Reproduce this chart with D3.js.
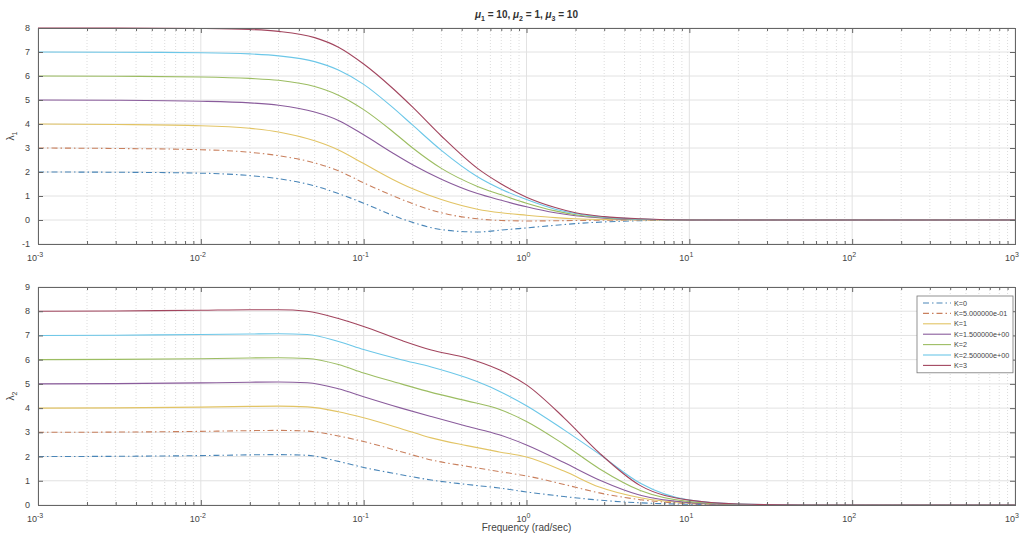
<!DOCTYPE html>
<html>
<head>
<meta charset="utf-8">
<script src="https://cdn.jsdelivr.net/npm/d3@7"></script>
<style>
  body { margin: 0; background: #fff; }
  text { font-family: "Liberation Sans", Arial, sans-serif; fill: #444; }
</style>
</head>
<body>
<div id="chart"></div>
<script>
var svgWidth = 1030;
var svgHeight = 536;

// Data
var kLabels = ["K=0", "K=5.000000e-01", "K=1", "K=1.500000e+00", "K=2", "K=2.500000e+00", "K=3"];
var kColors = ["#4a86b8", "#c9805e", "#e2c465", "#8a5c9c", "#9cbd62", "#6cc7e8", "#a2455e"];
var kDashed = [true, true, false, false, false, false, false];

// lambda1 (top panel)
var freq1 = [0.001, 0.003, 0.01, 0.02, 0.03, 0.05, 0.07, 0.1, 0.15, 0.2, 0.3, 0.5, 0.7, 1, 1.5, 2, 3, 5, 10, 1000];
var lambda1K0  = [2, 1.99, 1.95, 1.85, 1.72, 1.42, 1.1, 0.7, 0.2, -0.1, -0.4, -0.5, -0.42, -0.33, -0.22, -0.15, -0.08, -0.03, 0, 0];
var lambda1K05 = [3, 2.98, 2.93, 2.82, 2.68, 2.38, 2.05, 1.55, 1.02, 0.68, 0.3, 0.05, -0.02, -0.04, -0.03, -0.02, -0.01, 0, 0, 0];
var lambda1K1  = [4, 3.98, 3.93, 3.82, 3.67, 3.3, 2.92, 2.35, 1.7, 1.3, 0.85, 0.45, 0.3, 0.2, 0.1, 0.05, 0.02, 0.01, 0, 0];
var lambda1K15 = [5, 4.99, 4.95, 4.88, 4.78, 4.5, 4.15, 3.55, 2.8, 2.3, 1.7, 1.1, 0.82, 0.55, 0.3, 0.18, 0.08, 0.02, 0, 0];
var lambda1K2  = [6, 5.99, 5.96, 5.9, 5.82, 5.56, 5.2, 4.6, 3.7, 3.0, 2.15, 1.4, 1.05, 0.7, 0.38, 0.22, 0.1, 0.03, 0, 0];
var lambda1K25 = [7, 6.99, 6.97, 6.92, 6.84, 6.6, 6.25, 5.65, 4.7, 3.95, 2.9, 1.8, 1.28, 0.85, 0.45, 0.27, 0.12, 0.04, 0, 0];
var lambda1K3  = [8, 8, 7.98, 7.94, 7.86, 7.6, 7.2, 6.5, 5.5, 4.7, 3.5, 2.15, 1.5, 0.95, 0.52, 0.3, 0.14, 0.05, 0, 0];

// lambda2 (bottom panel)
var freq2 = [0.001, 0.003, 0.01, 0.02, 0.03, 0.045, 0.07, 0.1, 0.17, 0.26, 0.43, 0.68, 1, 1.7, 2.8, 5, 10, 20, 50, 1000];
var lambda2K0  = [2.0, 2.01, 2.04, 2.07, 2.08, 2.05, 1.8, 1.55, 1.25, 1.03, 0.85, 0.7, 0.54, 0.35, 0.2, 0.09, 0.03, 0.01, 0, 0];
var lambda2K05 = [3.0, 3.01, 3.04, 3.07, 3.08, 3.05, 2.85, 2.62, 2.2, 1.86, 1.6, 1.38, 1.2, 0.85, 0.5, 0.22, 0.06, 0.02, 0, 0];
var lambda2K1  = [4.0, 4.01, 4.04, 4.07, 4.08, 4.05, 3.85, 3.6, 3.15, 2.77, 2.45, 2.19, 1.98, 1.4, 0.74, 0.3, 0.08, 0.02, 0, 0];
var lambda2K15 = [5.0, 5.01, 5.04, 5.07, 5.08, 5.05, 4.8, 4.47, 4.0, 3.65, 3.25, 2.9, 2.48, 1.75, 1.03, 0.4, 0.1, 0.02, 0, 0];
var lambda2K2  = [6.0, 6.01, 6.04, 6.07, 6.08, 6.05, 5.8, 5.45, 5.0, 4.65, 4.3, 3.95, 3.45, 2.5, 1.5, 0.6, 0.14, 0.03, 0, 0];
var lambda2K25 = [7.0, 7.01, 7.04, 7.06, 7.07, 7.04, 6.75, 6.42, 6.0, 5.7, 5.25, 4.7, 4.1, 3.1, 2.1, 0.9, 0.2, 0.04, 0, 0];
var lambda2K3  = [8.0, 8.01, 8.04, 8.06, 8.06, 8.0, 7.7, 7.37, 6.8, 6.4, 6.07, 5.58, 4.96, 3.6, 2.15, 0.8, 0.2, 0.04, 0, 0];

var xDecades = [-3, -2, -1, 0, 1, 2, 3];
var yTicks1 = [-1, 0, 1, 2, 3, 4, 5, 6, 7, 8];
var yTicks2 = [0, 1, 2, 3, 4, 5, 6, 7, 8, 9];

var svg = d3.select("#chart")
  .append("svg")
  .attr("width", svgWidth)
  .attr("height", svgHeight);

var plotLeft = 38, plotRight = 1015;

var xScale = d3.scaleLog()
  .domain([1e-3, 1e3])
  .range([plotLeft, plotRight]);

// minor ticks for the log axis
var minorTicks = [];
xDecades.slice(0, -1).forEach(function(e) {
  for (var m = 2; m <= 9; m++) minorTicks.push(m * Math.pow(10, e));
});
var majorTicks = xDecades.map(function(e) { return Math.pow(10, e); });

function drawPanel(top, bottom, yDomain, yTicks, freqs, series, yLabel) {
  var yScale = d3.scaleLinear().domain(yDomain).range([bottom, top]);
  var g = svg.append("g");

  // grid
  g.selectAll(".vminor").data(minorTicks).enter().append("line")
    .attr("x1", d => xScale(d)).attr("x2", d => xScale(d))
    .attr("y1", top).attr("y2", bottom)
    .attr("stroke", "#dcdcdc").attr("stroke-dasharray", "1,2").attr("stroke-width", 1);
  g.selectAll(".vmajor").data(majorTicks).enter().append("line")
    .attr("x1", d => xScale(d)).attr("x2", d => xScale(d))
    .attr("y1", top).attr("y2", bottom)
    .attr("stroke", "#e2e2e2").attr("stroke-width", 1);
  g.selectAll(".hmajor").data(yTicks).enter().append("line")
    .attr("x1", plotLeft).attr("x2", plotRight)
    .attr("y1", d => yScale(d)).attr("y2", d => yScale(d))
    .attr("stroke", "#e2e2e2").attr("stroke-width", 1);

  // curves
  var line = d3.line()
    .x((d, i) => xScale(freqs[i]))
    .y(d => yScale(d))
    .curve(d3.curveMonotoneX);
  series.forEach(function(vals, k) {
    g.append("path")
      .datum(vals)
      .attr("d", line)
      .attr("fill", "none")
      .attr("stroke", kColors[k])
      .attr("stroke-width", 1.1)
      .attr("stroke-dasharray", kDashed[k] ? "6,3,1.5,3" : null);
  });

  // axes with inward ticks, box on
  var axisColor = "#666";
  var bottomAxis = d3.axisBottom(xScale).tickValues(majorTicks).tickSize(-5).tickFormat("");
  var topAxis = d3.axisTop(xScale).tickValues(majorTicks).tickSize(-5).tickFormat("");
  var bottomMinor = d3.axisBottom(xScale).tickValues(minorTicks).tickSize(-3).tickFormat("");
  var topMinor = d3.axisTop(xScale).tickValues(minorTicks).tickSize(-3).tickFormat("");
  var leftAxis = d3.axisLeft(yScale).tickValues(yTicks).tickSize(-5).tickFormat("");
  var rightAxis = d3.axisRight(yScale).tickValues(yTicks).tickSize(-5).tickFormat("");

  [[bottomAxis, 0, bottom], [bottomMinor, 0, bottom], [topAxis, 0, top], [topMinor, 0, top],
   [leftAxis, plotLeft, 0], [rightAxis, plotRight, 0]].forEach(function(a) {
    var ag = g.append("g")
      .attr("transform", "translate(" + a[1] + "," + a[2] + ")")
      .call(a[0]);
    ag.selectAll("path, line").attr("stroke", axisColor);
  });

  // y tick labels
  g.selectAll(".ylab").data(yTicks).enter().append("text")
    .attr("x", plotLeft - 8).attr("y", d => yScale(d) + 3)
    .attr("text-anchor", "end")
    .attr("font-size", 9)
    .text(d => d);

  // x tick labels (10^n)
  var xl = g.selectAll(".xlab").data(xDecades).enter().append("text")
    .attr("x", d => xScale(Math.pow(10, d)) - 3)
    .attr("y", bottom + 17)
    .attr("text-anchor", "middle")
    .attr("font-size", 9);
  xl.append("tspan").text("10");
  xl.append("tspan").attr("dy", -4).attr("font-size", 7).text(d => d);

  // y label
  var yl = g.append("text")
    .attr("transform", "translate(14," + ((top + bottom) / 2) + ") rotate(-90)")
    .attr("text-anchor", "middle")
    .attr("font-size", 10);
  yl.append("tspan").text("\u03bb");
  yl.append("tspan").attr("dy", 3).attr("font-size", 7).text(yLabel);

  return yScale;
}

drawPanel(28, 244, [-1, 8], yTicks1, freq1,
  [lambda1K0, lambda1K05, lambda1K1, lambda1K15, lambda1K2, lambda1K25, lambda1K3], "1");
drawPanel(287, 505, [0, 9], yTicks2, freq2,
  [lambda2K0, lambda2K05, lambda2K1, lambda2K15, lambda2K2, lambda2K25, lambda2K3], "2");

// title
var title = svg.append("text")
  .attr("x", (plotLeft + plotRight) / 2)
  .attr("y", 18)
  .attr("text-anchor", "middle")
  .attr("font-size", 10)
  .attr("font-weight", "bold")
  .style("fill", "#333");
[["\u03bc", "1", " = 10, "], ["\u03bc", "2", " = 1, "], ["\u03bc", "3", " = 10"]].forEach(function(p) {
  title.append("tspan").attr("font-style", "italic").text(p[0]);
  title.append("tspan").attr("dy", 3).attr("font-size", 7).text(p[1]);
  title.append("tspan").attr("dy", -3).text(p[2]);
});

// x axis label
svg.append("text")
  .attr("x", (plotLeft + plotRight) / 2)
  .attr("y", 531)
  .attr("text-anchor", "middle")
  .attr("font-size", 10)
  .text("Frequency (rad/sec)");

// legend
var legX = 917, legY = 296, legW = 96, rowH = 10.4;
var legend = svg.append("g");
legend.append("rect")
  .attr("x", legX).attr("y", legY)
  .attr("width", legW).attr("height", rowH * kLabels.length + 4)
  .attr("fill", "#fff").attr("stroke", "#777").attr("stroke-width", 0.8);
kLabels.forEach(function(lbl, k) {
  var cy = legY + 7 + k * rowH;
  legend.append("line")
    .attr("x1", legX + 6).attr("x2", legX + 34)
    .attr("y1", cy).attr("y2", cy)
    .attr("stroke", kColors[k]).attr("stroke-width", 1.1)
    .attr("stroke-dasharray", kDashed[k] ? "6,3,1.5,3" : null);
  legend.append("text")
    .attr("x", legX + 37).attr("y", cy + 2.6)
    .attr("font-size", 7.2)
    .text(lbl);
});
</script>
</body>
</html>
